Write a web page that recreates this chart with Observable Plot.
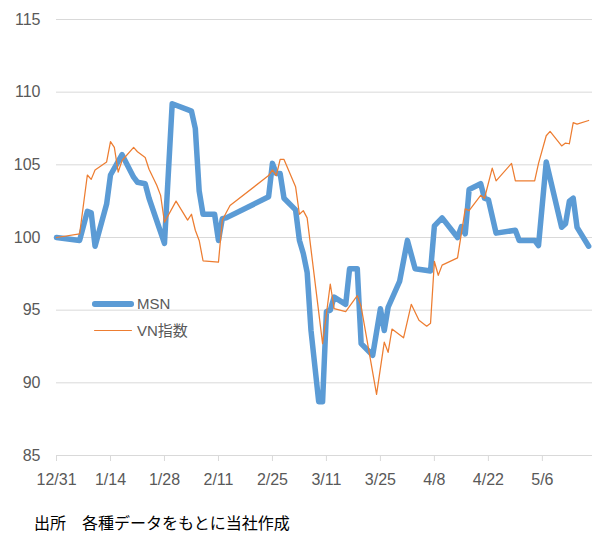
<!DOCTYPE html>
<html><head><meta charset="utf-8">
<script src="https://cdn.jsdelivr.net/npm/d3@7"></script>
<script src="https://cdn.jsdelivr.net/npm/@observablehq/plot@0.6"></script>
<style>
body{margin:0;background:#fff;}
#wrap{position:relative;width:592px;height:533px;font-family:"Liberation Sans",Arial,"Noto Sans CJK JP",sans-serif;overflow:hidden;}
#chart{position:absolute;left:0;top:0;}
.lg-line{position:absolute;}
.lg-text{position:absolute;font-size:15px;color:#595959;line-height:18px;font-family:"Liberation Sans","Noto Sans CJK JP",sans-serif;}
#caption{position:absolute;left:34px;top:512px;font-size:16px;line-height:20px;color:#000;font-family:"Noto Sans CJK JP",sans-serif;white-space:nowrap;}
</style></head><body>
<div id="wrap"><div id="chart"></div></div>
<script>
const seriesNames = ["MSN", "VN指数"];
const seriesColors = ["#5B9BD5", "#ED7D31"];

const msnDates = ["2018-12-31","2019-01-06","2019-01-08","2019-01-09","2019-01-10","2019-01-13","2019-01-14","2019-01-17","2019-01-20","2019-01-21","2019-01-23","2019-01-24","2019-01-28","2019-01-30","2019-02-03","2019-02-04","2019-02-05","2019-02-06","2019-02-07","2019-02-10","2019-02-11","2019-02-12","2019-02-13","2019-02-24","2019-02-25","2019-02-26","2019-02-27","2019-02-28","2019-03-03","2019-03-04","2019-03-05","2019-03-06","2019-03-07","2019-03-09","2019-03-10","2019-03-11","2019-03-12","2019-03-13","2019-03-16","2019-03-17","2019-03-19","2019-03-20","2019-03-23","2019-03-25","2019-03-26","2019-03-27","2019-03-30","2019-04-01","2019-04-03","2019-04-07","2019-04-08","2019-04-10","2019-04-14","2019-04-15","2019-04-16","2019-04-17","2019-04-20","2019-04-21","2019-04-22","2019-04-24","2019-04-29","2019-04-30","2019-05-04","2019-05-05","2019-05-07","2019-05-11","2019-05-12","2019-05-13","2019-05-14","2019-05-15","2019-05-18"];
const msnValues = [100.0,99.8,101.8,101.7,99.4,102.3,104.3,105.7,104.15,103.8,103.7,102.7,99.6,109.2,108.8,108.7,107.5,103.2,101.6,101.6,99.8,101.3,101.35,102.8,105.1,104.4,104.4,102.7,101.9,99.8,98.9,97.6,93.6,88.7,88.7,94.9,95.0,95.9,95.4,97.85,97.85,92.7,91.9,95.1,93.6,95.2,97.0,99.8,97.85,97.7,100.8,101.35,100.0,100.75,100.25,103.3,103.7,102.7,102.6,100.3,100.5,99.8,99.8,99.45,105.2,100.7,100.95,102.5,102.7,100.7,99.4];

const vnDates = ["2018-12-31","2019-01-06","2019-01-08","2019-01-09","2019-01-10","2019-01-13","2019-01-14","2019-01-15","2019-01-16","2019-01-17","2019-01-20","2019-01-21","2019-01-23","2019-01-24","2019-01-26","2019-01-27","2019-01-28","2019-01-31","2019-02-03","2019-02-04","2019-02-05","2019-02-06","2019-02-07","2019-02-11","2019-02-12","2019-02-14","2019-02-24","2019-02-25","2019-02-26","2019-02-27","2019-02-28","2019-03-03","2019-03-04","2019-03-05","2019-03-06","2019-03-10","2019-03-12","2019-03-13","2019-03-16","2019-03-19","2019-03-20","2019-03-24","2019-03-26","2019-03-27","2019-03-28","2019-03-31","2019-04-02","2019-04-04","2019-04-06","2019-04-07","2019-04-08","2019-04-09","2019-04-10","2019-04-14","2019-04-16","2019-04-17","2019-04-20","2019-04-21","2019-04-23","2019-04-24","2019-04-28","2019-04-29","2019-05-04","2019-05-05","2019-05-07","2019-05-08","2019-05-11","2019-05-12","2019-05-13","2019-05-14","2019-05-15","2019-05-18"];
const vnValues = [100.0,100.25,104.3,104.0,104.65,105.2,106.6,106.2,104.5,105.3,106.2,105.9,105.5,104.7,103.6,102.9,101.05,102.5,101.2,101.6,100.5,99.8,98.4,98.3,101.2,102.2,104.26,104.65,104.26,105.37,105.37,103.5,101.6,101.85,101.35,92.7,96.8,95.1,94.9,96.0,95.25,89.2,92.8,92.1,93.7,93.1,95.4,94.3,93.9,94.1,98.35,97.4,98.1,98.6,101.97,101.85,102.9,102.7,104.77,103.9,105.1,103.9,103.9,105.1,107.0,107.3,106.3,106.5,106.45,107.9,107.8,108.05];

const yTicks = [85, 90, 95, 100, 105, 110, 115];
const xTickDates = ["2018-12-31","2019-01-14","2019-01-28","2019-02-11","2019-02-25","2019-03-11","2019-03-25","2019-04-08","2019-04-22","2019-05-06"];
const xTickLabels = ["12/31","1/14","1/28","2/11","2/25","3/11","3/25","4/8","4/22","5/6"];
const xDomain = ["2018-12-31", "2019-05-19"];
const captionText = "出所　各種データをもとに当社作成";

const parse = d3.utcParse("%Y-%m-%d");
const msn = msnDates.map((d, i) => ({date: parse(d), value: msnValues[i]}));
const vn = vnDates.map((d, i) => ({date: parse(d), value: vnValues[i]}));
const xTicks = xTickDates.map(parse);
const labelFor = d => xTickLabels[xTicks.findIndex(t => +t === +d)];

const chart = Plot.plot({
  width: 592, height: 500,
  marginTop: 19, marginBottom: 45, marginLeft: 56, marginRight: 0,
  style: {fontFamily: '"Liberation Sans", Arial, sans-serif', fontSize: "16px", color: "#595959", background: "#fff", overflow: "visible"},
  x: {type: "utc", domain: xDomain.map(parse), label: null},
  y: {domain: [85, 115], label: null},
  marks: [
    Plot.ruleY(yTicks, {stroke: "#d9d9d9", strokeWidth: 1}),
    Plot.axisY(yTicks, {tickSize: 0, tickPadding: 16, fill: "#595959", fontSize: 16, label: null}),
    Plot.axisX(xTicks, {tickSize: 6, tickPadding: 12, stroke: "#d9d9d9", fill: "#595959", fontSize: 16, tickFormat: labelFor, label: null}),
    Plot.line(msn, {x: "date", y: "value", stroke: seriesColors[0], strokeWidth: 5.5, strokeLinejoin: "round", strokeLinecap: "round"}),
    Plot.line(vn, {x: "date", y: "value", stroke: seriesColors[1], strokeWidth: 1.25, strokeLinejoin: "round"})
  ]
});
document.getElementById("chart").appendChild(chart);

const wrap = document.getElementById("wrap");
function addLegend(i, top, lineH, lineL, lineW) {
  const l = document.createElement("div");
  l.className = "lg-line";
  l.style.cssText = `left:${lineL}px;top:${top - lineH/2}px;width:${lineW}px;height:${lineH}px;background:${seriesColors[i]};border-radius:${lineH/2}px;`;
  wrap.appendChild(l);
  const t = document.createElement("div");
  t.className = "lg-text";
  t.style.cssText = `left:137px;top:${top - 9}px;`;
  t.textContent = seriesNames[i];
  wrap.appendChild(t);
}
addLegend(0, 304, 5.5, 92, 42);
addLegend(1, 330.5, 1.3, 94, 38);

const cap = document.createElement("div");
cap.id = "caption";
cap.textContent = captionText;
wrap.appendChild(cap);
</script>
</body></html>
